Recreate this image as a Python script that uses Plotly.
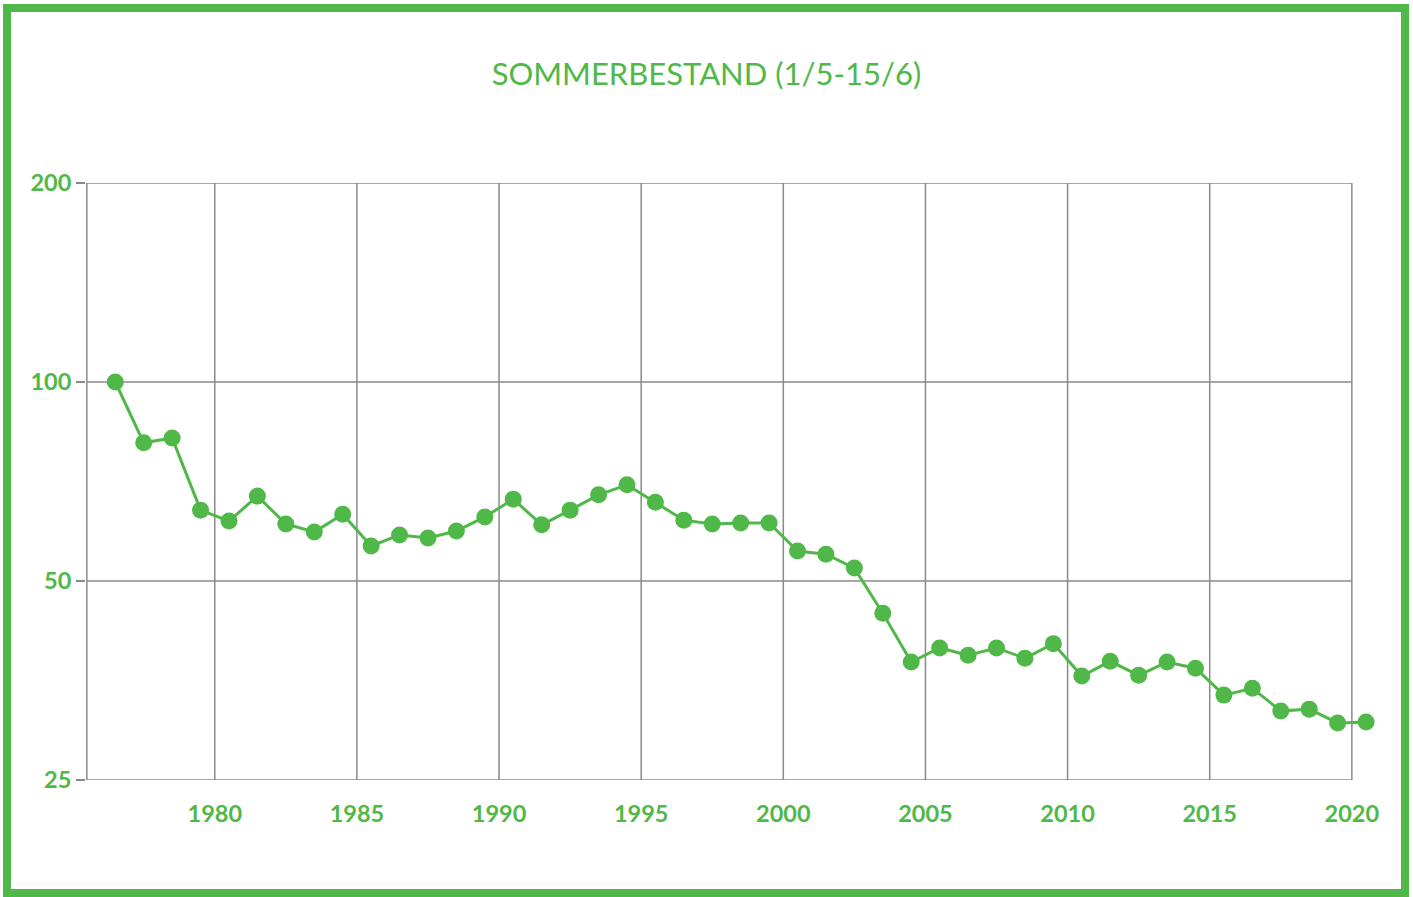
import plotly.graph_objects as go

# summer population index (1/5-15/6)
years = [1976, 1977, 1978, 1979, 1980, 1981, 1982, 1983, 1984, 1985,
         1986, 1987, 1988, 1989, 1990, 1991, 1992, 1993, 1994, 1995,
         1996, 1997, 1998, 1999, 2000, 2001, 2002, 2003, 2004, 2005,
         2006, 2007, 2008, 2009, 2010, 2011, 2012, 2013, 2014, 2015,
         2016, 2017, 2018, 2019, 2020]
index = [100.0, 80.9, 82.3, 64.0, 61.6, 67.2, 61.0, 59.3, 63.1, 56.5,
         58.7, 58.1, 59.5, 62.5, 66.5, 60.8, 64.0, 67.5, 69.9, 65.8,
         61.8, 61.0, 61.2, 61.2, 55.5, 54.9, 52.3, 44.7, 37.7, 39.6,
         38.6, 39.6, 38.2, 40.2, 35.9, 37.8, 36.0, 37.7, 36.9, 33.6,
         34.4, 31.8, 32.0, 30.5, 30.6]

y_ticks = [25, 50, 100, 200]
x_ticks = [1980, 1985, 1990, 1995, 2000, 2005, 2010, 2015, 2020]

GREEN = '#50b848'
GRID = '#8a8a8a'
FONT = 'Lato'

W, H = 1413, 897
L, R, T, B = 86, 20, 183, 117
PW, PH = W - L - R, H - T - B

# grid box runs 1975.5 .. 2020, but the last point hangs past it,
# so the x range goes further and the box is drawn with shapes
X0, XGRID = 1975.5, 2020
px_per_year = 1265 / (XGRID - X0)
x_range = [X0 - 0.03, X0 - 0.03 + PW / px_per_year]

# points sit in the middle of each year
xs = [y + 0.5 for y in years]

fig = go.Figure()

for xv in [X0] + x_ticks:
    fig.add_shape(type='line', xref='x', yref='y', x0=xv, x1=xv,
                  y0=y_ticks[0], y1=y_ticks[-1],
                  line=dict(color=GRID, width=1.5), layer='below')
for yv in y_ticks:
    fig.add_shape(type='line', xref='x', yref='y', x0=X0, x1=XGRID,
                  y0=yv, y1=yv, line=dict(color=GRID, width=1.5), layer='below')

fig.add_trace(go.Scatter(x=xs, y=index, mode='lines+markers',
                         line=dict(color=GREEN, width=3),
                         marker=dict(color=GREEN, size=17),
                         cliponaxis=False, showlegend=False))

fig.update_layout(
    width=W, height=H,
    margin=dict(l=L, r=R, t=T, b=B),
    paper_bgcolor='white', plot_bgcolor='white',
    title=dict(text='SOMMERBESTAND (1/5-15/6)', x=0.5, xanchor='center',
               y=1 - 74 / H, yanchor='middle', yref='container',
               font=dict(family=FONT, size=31, color=GREEN)),
    font=dict(family=FONT, color=GREEN),
    hovermode=False,
)

fig.update_xaxes(range=x_range, tickvals=x_ticks,
                 showgrid=False, showline=False, zeroline=False,
                 ticks='', ticklabelstandoff=17,
                 tickfont=dict(family=FONT, size=23.5, color=GREEN, weight='bold'))

fig.update_yaxes(type='log', range=[1.39794, 2.30103], tickvals=y_ticks,
                 showgrid=False, showline=False, zeroline=False,
                 ticks='outside', ticklen=9, tickcolor=GRID, tickwidth=1.5,
                 tickfont=dict(family=FONT, size=23.5, color=GREEN, weight='bold'))

# green frame round the whole picture
fig.add_shape(type='rect', xref='paper', yref='paper',
              x0=(7 - L) / PW, x1=(1405 - L) / PW,
              y0=(H - B - 893) / PH, y1=(H - B - 8) / PH,
              line=dict(color=GREEN, width=8), fillcolor='rgba(0,0,0,0)',
              layer='above')

fig.write_html("out.html", config={'displayModeBar': False},
               post_script="document.body.style.margin='0px';")
